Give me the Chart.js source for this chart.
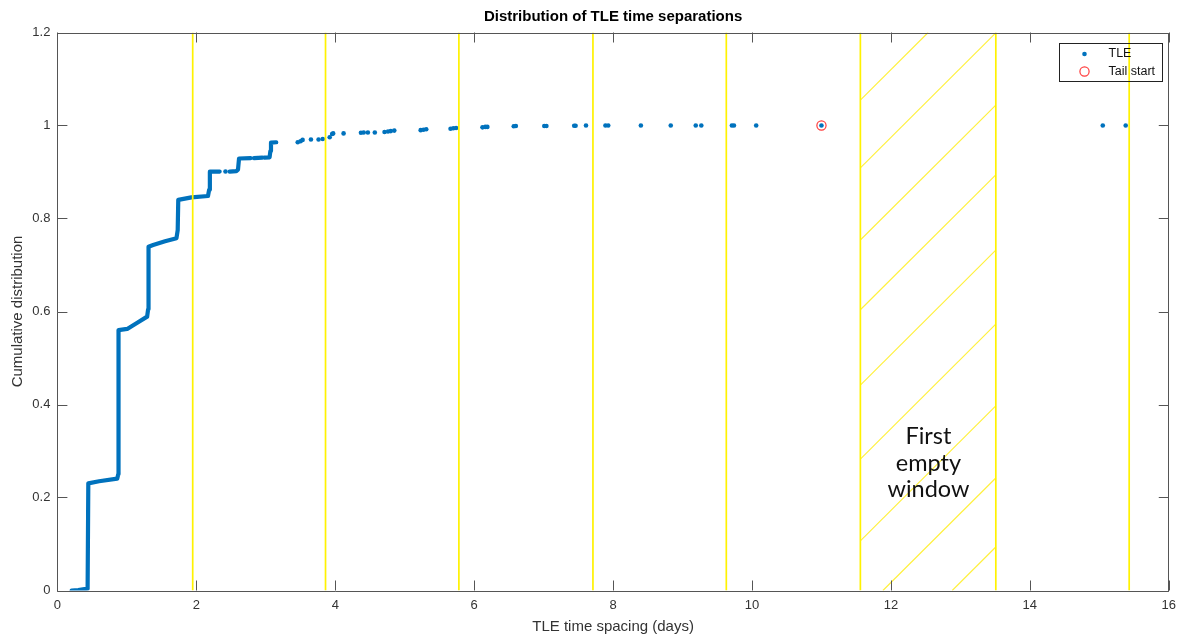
<!DOCTYPE html>
<html lang="en">
<head>
<meta charset="UTF-8">
<title>Distribution of TLE time separations</title>
<script src="https://cdn.jsdelivr.net/npm/chart.js"></script>
<style>
  html, body { margin: 0; padding: 0; background: #fff; }
</style>
</head>
<body>
<canvas id="cdfChart" width="1183" height="636"></canvas>

<script>
// dense part of the empirical CDF (null = gap between marker clusters)
const curveX = [0.205, 0.30, 0.435, 0.445, 0.60, 0.861, 0.876, 0.880, 1.005, 1.15, 1.292, 1.306, 1.312,
                1.378, 1.55, 1.714, 1.732, 1.740, 1.93, 2.168, 2.185, 2.195, 2.336, 2.40,
                2.48, 2.576, 2.60, 2.615, 2.78, 2.80, 2.83, 2.95, 2.965, 2.98, 3.055, 3.066, 3.075, 3.15];
const curveY = [0.000, 0.001, 0.004, 0.2305, 0.235, 0.2405, 0.250, 0.560, 0.5625, 0.576, 0.589, 0.605, 0.7394,
                0.743, 0.751, 0.7575, 0.775, 0.840, 0.8455, 0.8484, 0.862, 0.9007, 0.901, null,
                0.901, 0.902, 0.905, 0.929, 0.930, null, 0.930, 0.931, null, 0.931, 0.9316, 0.945, 0.963, 0.964];

// sparse TLE markers in the tail
const dotX = [2.42, 3.46, 3.50, 3.53, 3.65, 3.76, 3.82, 3.92, 3.955, 3.97, 4.12, 4.37, 4.41, 4.47, 4.57, 4.71,
              4.76, 4.80, 4.85, 5.23, 5.27, 5.31, 5.66, 5.70, 5.74, 6.12, 6.16, 6.19, 6.57, 6.60, 7.01, 7.04,
              7.44, 7.46, 7.61, 7.89, 7.93, 8.40, 8.83, 9.19, 9.27, 9.71, 9.74, 10.06, 11.00, 15.05, 15.38];
const dotY = [0.901, 0.964, 0.966, 0.969, 0.970, 0.970, 0.971, 0.9746, 0.9817, 0.983, 0.983, 0.9845, 0.985, 0.985, 0.985, 0.986,
              0.987, 0.988, 0.989, 0.990, 0.991, 0.992, 0.993, 0.994, 0.9946, 0.996, 0.997, 0.997, 0.9985, 0.9989, 0.999, 0.999,
              0.9995, 0.9995, 1.0, 1.0, 1.0, 1.0, 1.0, 1.0, 1.0, 1.0, 1.0, 1.0, 1.0, 1.0, 1.0];

const tailX = [11.00];
const tailY = [1.0];

// window boundaries (yellow lines) and the first empty window
const windowEdges = [1.948, 3.86, 5.78, 7.71, 9.63, 11.56, 13.51, 15.43];
const emptyWindow = [11.56, 13.51];
const hatchRightY = [1.345, 1.199, 1.044, 0.894, 0.732, 0.573, 0.397, 0.242, 0.0935];
const hatchRise = 0.2903;

const xTicks = [0, 2, 4, 6, 8, 10, 12, 14, 16];
const yTicks = [0, 0.2, 0.4, 0.6, 0.8, 1, 1.2];

const noteLines = ['First', 'empty', 'window'];
const noteX = 12.54, noteY = 0.3144;

const BLUE = '#0072BD';
const YELLOW = '#fff200';
const FONT = "'Liberation Sans', Arial, sans-serif";
const TXT = '#333333';

const yMin = yTicks[0], yMax = yTicks[yTicks.length - 1];

const datasets = [];

windowEdges.forEach(function(x) {
    datasets.push({
        type: 'line', data: [{x: x, y: yMin}, {x: x, y: yMax}],
        borderColor: YELLOW, borderWidth: 1.7, pointRadius: 0, order: 0
    });
});

// hatch lines inside the empty window, clipped to the axes box
const x0 = emptyWindow[0], x1 = emptyWindow[1];
const slope = hatchRise / (x1 - x0);
hatchRightY.forEach(function(yR) {
    const yL = yR - hatchRise;
    let a = {x: x0, y: yL};
    if (yL < yMin) a = {x: x0 + (yMin - yL) / slope, y: yMin};
    let b = {x: x1, y: yR};
    if (yR > yMax) b = {x: x1 - (yR - yMax) / slope, y: yMax};
    datasets.push({
        type: 'line', data: [a, b],
        borderColor: '#fff03c', borderWidth: 1.15, pointRadius: 0, order: 3
    });
});

datasets.push({
    type: 'line', label: 'TLE curve',
    data: curveX.map((x, i) => ({x: x, y: curveY[i]})),
    borderColor: BLUE, borderWidth: 4.2, pointRadius: 0,
    borderCapStyle: 'round', borderJoinStyle: 'round', spanGaps: false, order: 2
});

datasets.push({
    type: 'scatter', label: 'TLE',
    data: dotX.map((x, i) => ({x: x, y: dotY[i]})),
    backgroundColor: BLUE, borderWidth: 0, pointRadius: 2.3, order: 2
});

datasets.push({
    type: 'scatter', label: 'Tail start',
    data: tailX.map((x, i) => ({x: x, y: tailY[i]})),
    backgroundColor: 'rgba(0,0,0,0)', borderColor: '#ff3b3b', borderWidth: 1.2, pointRadius: 4.6, order: 1
});

// MATLAB-like box, inward ticks, legend and text note
const matlabAxes = {
    id: 'matlabAxes',
    afterDatasetsDraw(chart) {
        const ctx = chart.ctx;
        const a = chart.chartArea;
        const xs = chart.scales.x, ys = chart.scales.y;
        ctx.save();

        // note
        ctx.fillStyle = '#111';
        ctx.font = "23.5px Lato, sans-serif";
        ctx.textAlign = 'center';
        ctx.textBaseline = 'alphabetic';
        const cx = xs.getPixelForValue(noteX);
        const cy = ys.getPixelForValue(noteY);
        noteLines.forEach((t, i) => ctx.fillText(t, cx, cy + i * 26.5));

        // box + ticks
        ctx.strokeStyle = '#555';
        ctx.lineWidth = 1;
        ctx.beginPath();
        ctx.rect(Math.round(a.left) + 0.5, Math.round(a.top) + 0.5,
                 Math.round(a.right - a.left), Math.round(a.bottom - a.top));
        const tl = 10;
        xTicks.forEach(v => {
            const px = Math.round(xs.getPixelForValue(v)) + 0.5;
            ctx.moveTo(px, a.bottom); ctx.lineTo(px, a.bottom - tl);
            ctx.moveTo(px, a.top); ctx.lineTo(px, a.top + tl);
        });
        yTicks.forEach(v => {
            const py = Math.round(ys.getPixelForValue(v)) + 0.5;
            ctx.moveTo(a.left, py); ctx.lineTo(a.left + tl, py);
            ctx.moveTo(a.right, py); ctx.lineTo(a.right - tl, py);
        });
        ctx.stroke();

        // legend
        const lw = 103, lh = 38;
        const lx = Math.round(a.right - 7 - lw) + 0.5, ly = Math.round(a.top + 10.5) + 0.5;
        ctx.strokeStyle = '#222';
        ctx.strokeRect(lx, ly, lw, lh);
        ctx.fillStyle = BLUE;
        ctx.beginPath();
        ctx.arc(lx + 25, ly + 10.5, 2.3, 0, Math.PI * 2);
        ctx.fill();
        ctx.strokeStyle = '#ff3b3b';
        ctx.lineWidth = 1.2;
        ctx.beginPath();
        ctx.arc(lx + 25, ly + 28, 4.6, 0, Math.PI * 2);
        ctx.stroke();
        ctx.fillStyle = '#111';
        ctx.font = "12.5px " + FONT;
        ctx.textAlign = 'left';
        ctx.textBaseline = 'middle';
        ctx.fillText('TLE', lx + 49, ly + 10.5);
        ctx.fillText('Tail start', lx + 49, ly + 28);

        ctx.restore();
    }
};

new Chart(document.getElementById('cdfChart').getContext('2d'), {
    type: 'scatter',
    data: { datasets: datasets },
    options: {
        responsive: false,
        animation: false,
        layout: { padding: { left: 0, right: 12, top: 0, bottom: 0 } },
        plugins: {
            legend: { display: false },
            tooltip: { enabled: false },
            title: {
                display: true,
                fullSize: false,
                text: 'Distribution of TLE time separations',
                color: '#000',
                font: { family: FONT, size: 15, weight: 'bold' },
                padding: { top: 8, bottom: 6.5 }
            }
        },
        scales: {
            x: {
                type: 'linear', min: 0, max: 16,
                grid: { display: false, drawTicks: false },
                border: { display: false },
                afterBuildTicks: s => { s.ticks = xTicks.map(v => ({value: v})); },
                ticks: { color: TXT, font: { family: FONT, size: 13 }, padding: 7, autoSkip: false, maxRotation: 0 },
                title: { display: true, text: 'TLE time spacing (days)', color: TXT,
                         font: { family: FONT, size: 15 }, padding: { top: 0, bottom: 0 } },
                afterFit: s => { s.height = 45.5; }
            },
            y: {
                type: 'linear', min: yMin, max: yMax,
                grid: { display: false, drawTicks: false },
                border: { display: false },
                afterBuildTicks: s => { s.ticks = yTicks.map(v => ({value: v})); },
                ticks: { color: TXT, font: { family: FONT, size: 13 }, padding: 7, autoSkip: false,
                         callback: v => String(+v.toFixed(1)) },
                title: { display: true, text: 'Cumulative distribution', color: TXT,
                         font: { family: FONT, size: 15 }, padding: { top: 9, bottom: 0 } },
                afterFit: s => { s.width = 57.4; }
            }
        }
    },
    plugins: [matlabAxes]
});
</script>
</body>
</html>
